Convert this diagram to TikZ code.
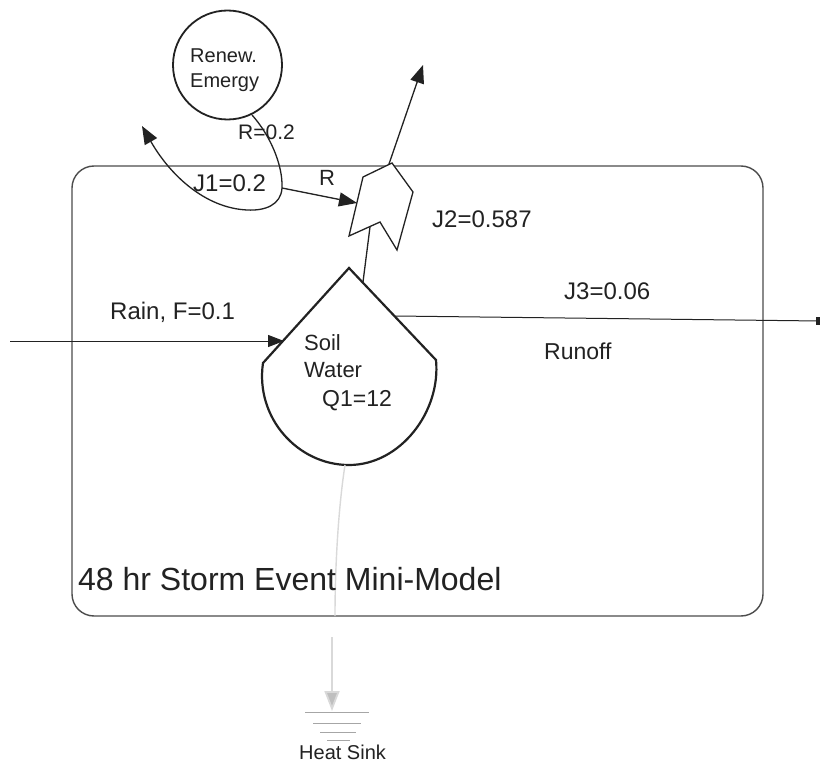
\documentclass[tikz,border=0pt]{standalone}
\usepackage{fontspec}
\setmainfont{Liberation Sans}
\usetikzlibrary{arrows.meta}
\definecolor{ink}{HTML}{222222}
\tikzset{
 lbl/.style={inner sep=0pt,text=ink,font=\fontsize{#1}{#1}\selectfont,anchor=west},
 lbl/.default=18,
 flow/.style={draw=ink,line width=1.3pt,-{Triangle[length=18pt,width=14pt]}},
 plain/.style={draw=ink,line width=1.3pt},
 sink/.style={draw=black!35,line width=.8pt}
}
\begin{document}
\begin{tikzpicture}[x=1pt,y=-1pt]
\useasboundingbox (0,0) rectangle (820,765);
\fill[white] (0,0) rectangle (820,765);
% system frame
\node[draw=black!70,line width=1.4pt,rounded corners=22pt,minimum width=691pt,minimum height=450pt,inner sep=0pt] (frame) at (417.5,391) {};
% source
\node[circle,draw=ink,line width=1.8pt,minimum size=109pt,inner sep=0pt] (src) at (227.5,65) {};
\node[lbl=20,align=left] (srct) at (190,70) {Renew.\\[5pt]Emergy};
% tank
\coordinate (tA) at (349,268);
\coordinate (tR) at (436,360);
\coordinate (tB) at (349,465);
\coordinate (tL) at (263,363);
\draw[draw=ink,line width=2.2pt,line join=miter] (tA) -- (tR) .. controls (441,412) and (400,465) .. (tB) .. controls (298,465) and (255,418) .. (tL) -- cycle;
% gate
\draw[draw=ink,line width=1.3pt,fill=white] (392,163) coordinate (g1) -- (413,192) -- (397,250) -- (380,222) coordinate (g2) -- (349,236) -- (363,177) -- cycle;
\coordinate (gIn) at (357,203);
\coordinate (gBot) at (370,227);
% connectors
\coordinate (s1) at (252,115);
\coordinate (loop) at (282,188);
\coordinate (outA) at (142,126);
\draw[flow] (s1) .. controls (270,135) and (283,165) .. (282,188) .. controls (281,205) and (265,211) .. (247,210) .. controls (205,208) and (170,175) .. (outA);
\draw[flow] (loop) -- (gIn);
\draw[plain] (tA) ++(14,14) coordinate (tTap) -- (gBot);
\coordinate (upT) at (423,65);
\coordinate (gTop) at (389,164);
\draw[flow] (gTop) -- (upT);
\coordinate (rainS) at (10,341);
\coordinate (rainE) at (284,341);
\draw[flow,line width=1pt,-{Triangle[length=16pt,width=12pt]}] (rainS) -- (rainE);
\coordinate (runS) at (395,316);
\coordinate (runE) at (820,321);
\draw[plain,line width=1pt] (runS) -- (runE);
\fill[ink] (816,317) rectangle (820,325);
% heat sink
\coordinate (hs1) at (345,465);
\coordinate (hs2) at (335,616);
\coordinate (hs3) at (332,637);
\coordinate (hs4) at (332,711);
\draw[draw=black!15,line width=1.4pt] (hs1) .. controls (338,510) and (335,570) .. (hs2);
\draw[draw=black!15,line width=1.8pt,-{Triangle[length=20pt,width=15pt,fill=black!25]}] (hs3) -- (hs4);
\draw[sink] (305,712) -- (369,712);
\draw[sink] (313,723) -- (361,723);
\draw[sink] (320,732) -- (356,732);
\draw[sink] (327,740) -- (350,740);
% labels
\node[lbl=21] (l1) at (238,132) {R=0.2};
\node[lbl=24] (l2) at (193,183) {J1=0.2};
\node[lbl=22] (l3) at (319,178) {R};
\node[lbl=24] (l4) at (432,219) {J2=0.587};
\node[lbl=24] (l5) at (564,291) {J3=0.06};
\node[lbl=24] (l6) at (110,312) {Rain, F=0.1};
\node[lbl=23] (l7) at (544,351) {Runoff};
\node[lbl=22] (l8) at (304,343) {Soil};
\node[lbl=22] (l9) at (304,370) {Water};
\node[lbl=23] (l10) at (322,401) {Q1=12};
\node[lbl=32] (l11) at (78,579) {48 hr Storm Event Mini-Model};
\node[lbl=20] (l12) at (299,752) {Heat Sink};
\end{tikzpicture}
\end{document}
